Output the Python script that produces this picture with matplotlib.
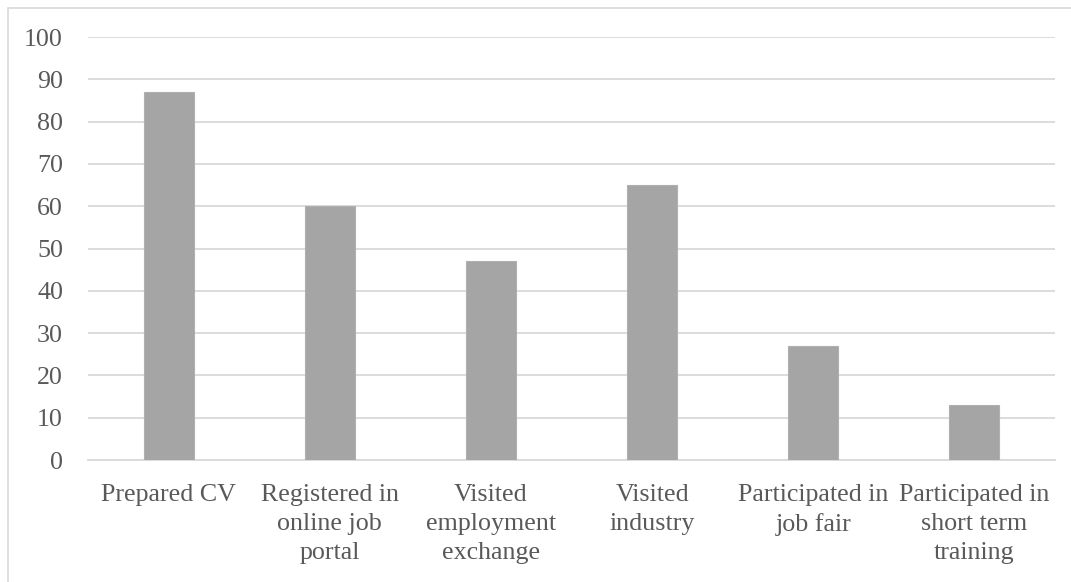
import matplotlib.pyplot as plt
from matplotlib.patches import Rectangle

categories = ["Prepared CV",
              "Registered in\nonline job\nportal",
              "Visited\nemployment\nexchange",
              "Visited\nindustry",
              "Participated in\njob fair",
              "Participated in\nshort term\ntraining"]
values = [87, 60, 47, 65, 27, 13]
yticks = list(range(0, 101, 10))

text_col = "#595959"
grid_col = "#D9D9D9"

plt.rcParams['font.family'] = ['Liberation Serif', 'DejaVu Serif']

fig = plt.figure(figsize=(10.71, 5.82), dpi=100)
ax = fig.add_axes([0.0822, 0.2096, 0.9028, 0.7268])

x = range(len(categories))
ax.bar(x, values, width=0.31, color="#A5A5A5", edgecolor="#B0B0B0", linewidth=0.8, zorder=3)

ax.set_xlim(-0.5, len(categories) - 0.5)
ax.set_ylim(0, 100)
ax.set_yticks(yticks)
ax.set_xticks(list(x))
ax.set_xticklabels(categories, linespacing=1.42)
ax.yaxis.grid(True, color=grid_col, linewidth=1.3, zorder=0)
ax.set_axisbelow(True)

for s in ["top", "right", "left"]:
    ax.spines[s].set_visible(False)
ax.spines["bottom"].set_color(grid_col)
ax.spines["bottom"].set_linewidth(1.3)

ax.tick_params(axis="both", length=0, labelsize=18.7, labelcolor=text_col)
ax.tick_params(axis="y", pad=18)
ax.tick_params(axis="x", pad=17)

# outer chart frame
fig.patches.append(Rectangle((8 / 1071, -0.5), 1.5, 0.5 + 1 - 8 / 582,
                             transform=fig.transFigure, fill=False,
                             edgecolor=grid_col, linewidth=1.2))

fig.savefig("out.png", dpi=100)
